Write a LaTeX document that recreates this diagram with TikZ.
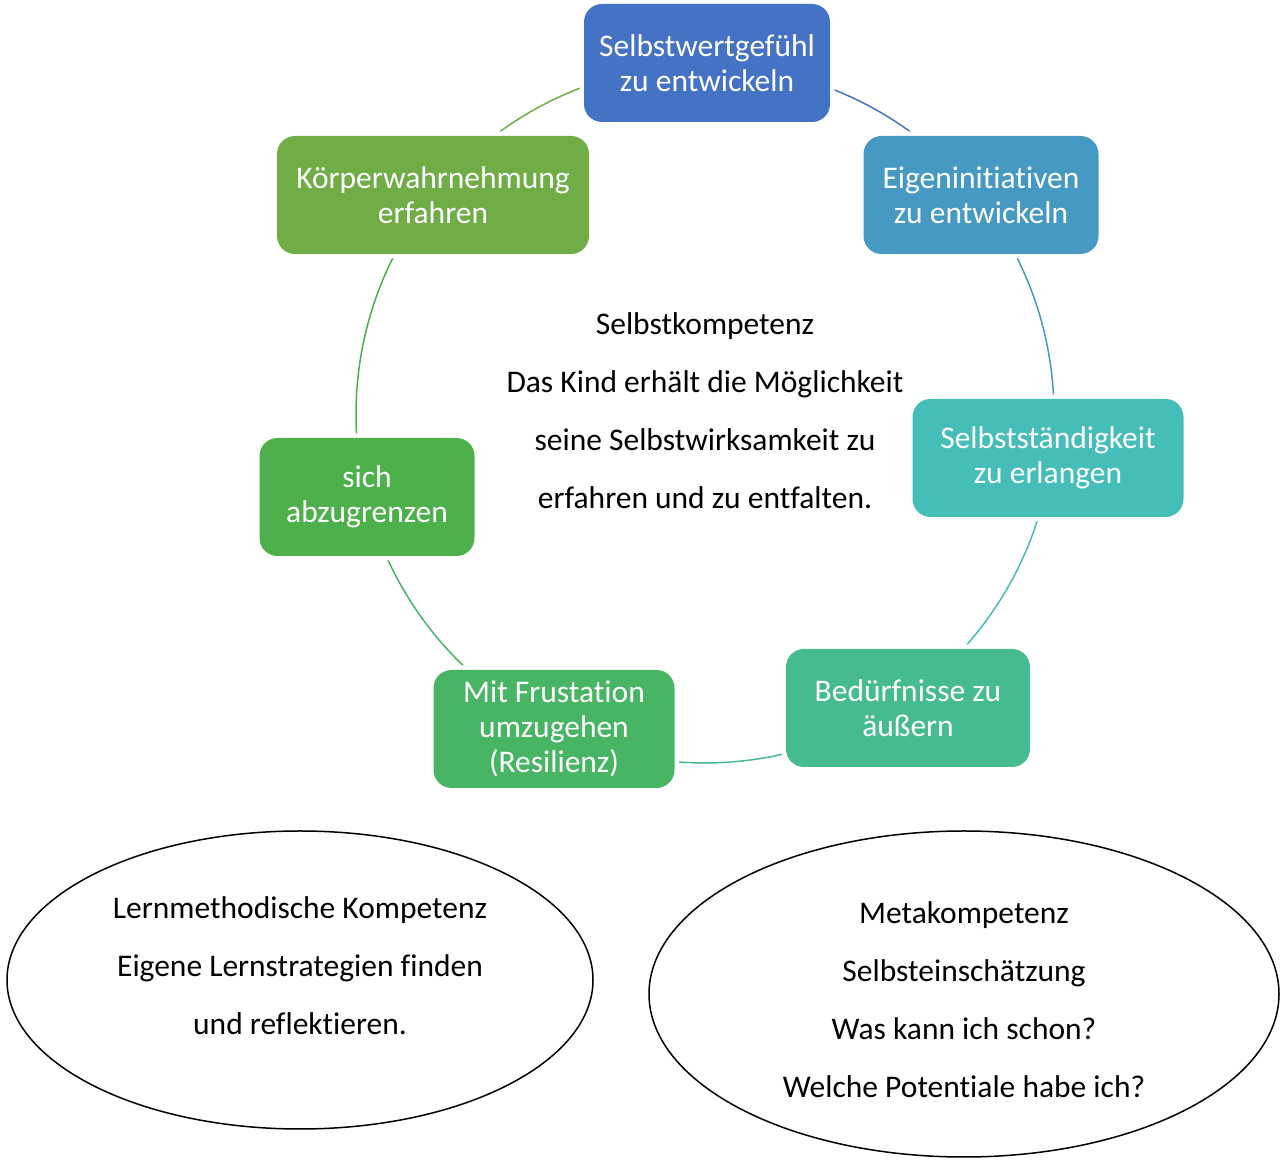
\documentclass[tikz,border=0pt]{standalone}
\usepackage{fontspec}
\setmainfont{Carlito}[Ligatures=NoCommon]
\usetikzlibrary{calc,shapes.geometric,backgrounds}
\definecolor{cA}{HTML}{4472C4}
\definecolor{cB}{HTML}{4599C3}
\definecolor{cC}{HTML}{45BEB9}
\definecolor{cD}{HTML}{45BB8F}
\definecolor{cE}{HTML}{47B563}
\definecolor{cF}{HTML}{4DB04B}
\definecolor{cG}{HTML}{70AD47}
\begin{document}
\begin{tikzpicture}[x=1pt,y=1pt,line join=round,line cap=round,
	box/.style={fill=#1,rounded corners=18pt,text=white,align=center,inner sep=0pt,minimum height=118pt,font=\fontsize{31.5}{35}\selectfont,preaction={draw=white,line width=9pt}},
	ring/.style={draw=#1,line width=1.5pt},
	txt/.style={align=center,font=\fontsize{31.5}{58}\selectfont},
	oval/.style={draw,ellipse,line width=1.5pt,inner sep=0pt}]
	\def\rad{349}
	\useasboundingbox (0,0) rectangle (1283,1162);
	\path (705,748) coordinate (M);
	% boxes of the ring
	\node[box=cA,minimum width=246pt] (wert) at (707,1099) {Selbstwertgefühl\\zu entwickeln};
	\node[box=cB,minimum width=235pt] (init) at (981,967) {Eigeninitiativen\\zu entwickeln};
	\node[box=cC,minimum width=271pt] (stand) at (1048,704) {Selbstständigkeit\\zu erlangen};
	\node[box=cD,minimum width=244pt] (beduerf) at (908,454) {Bedürfnisse zu\\äußern};
	\node[box=cE,minimum width=241pt] (frust) at (554,433) {Mit Frustation\\umzugehen\\(Resilienz)};
	\node[box=cF,minimum width=215pt] (grenz) at (367,665) {sich\\abzugrenzen};
	\node[box=cG,minimum width=312pt] (koerper) at (433,967) {Körperwahrnehmung\\erfahren};
	\begin{scope}[on background layer]
		\foreach \a/\b/\c in {wert/init/cA,init/stand/cB,stand/beduerf/cC,beduerf/frust/cD,frust/grenz/cE,grenz/koerper/cF,koerper/wert/cG}
		\draw[ring=\c] let \p1=($(\a)-(M)$), \p2=($(\b)-(M)$), \n1={atan2(\y1,\x1)}, \n2={atan2(\y2,\x2)}, \n3={ifthenelse(\n2>\n1,\n2-360,\n2)} in ($(M)+(\n1:\rad pt)$) arc[start angle=\n1,end angle=\n3,radius=\rad pt];
	\end{scope}
	\node[txt] (selbst) at (705,751) {Selbstkompetenz\\Das Kind erhält die Möglichkeit\\seine Selbstwirksamkeit zu\\erfahren und zu entfalten.};
	% the two ovals
	\node[oval,minimum width=586pt,minimum height=298pt] (lern) at (300,182) {};
	\node[oval,minimum width=630pt,minimum height=326pt] (meta) at (964,168) {};
	\node[txt] (lerntxt) at (300,196) {Lernmethodische Kompetenz\\Eigene Lernstrategien finden\\und reflektieren.};
	\node[txt] (metatxt) at (964,162) {Metakompetenz\\Selbsteinschätzung\\Was kann ich schon?\\Welche Potentiale habe ich?};
\end{tikzpicture}
\end{document}
